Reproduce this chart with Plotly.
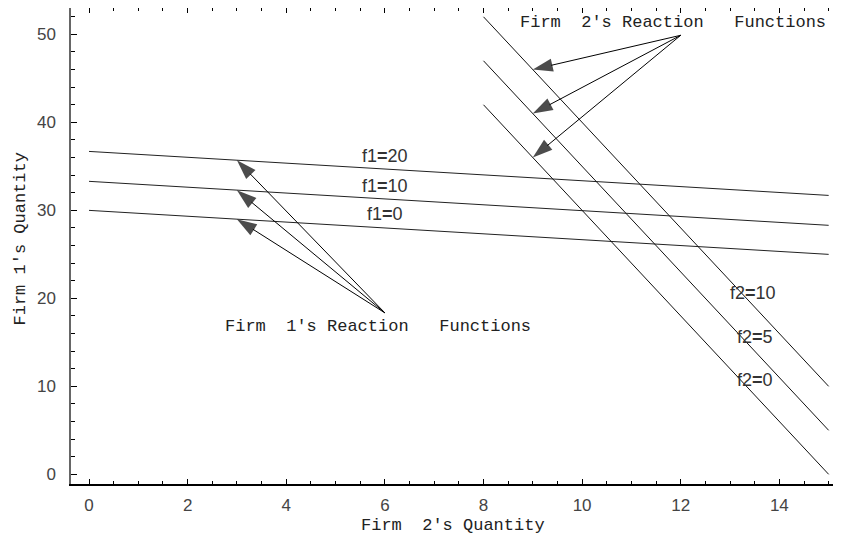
import plotly.graph_objects as go

# ---- data ----
x_f1 = [0, 15]
f1_0 = [30.0, 25.0]
f1_10 = [33.3, 28.3]
f1_20 = [36.7, 31.7]

x_f2 = [8, 15]
f2_0 = [42.0, 0.0]
f2_5 = [47.0, 5.0]
f2_10 = [52.0, 10.0]

f1_labels = ["f1<b>=</b>20", "f1<b>=</b>10", "f1<b>=</b>0"]
f1_label_x = [6.0, 6.0, 6.0]
f1_label_y = [36.2, 32.8, 29.6]

f2_labels = ["f2<b>=</b>10", "f2<b>=</b>5", "f2<b>=</b>0"]
f2_label_x = [13.47, 13.5, 13.5]
f2_label_y = [20.6, 15.6, 10.7]

firm1_text = "Firm  1's Reaction   Functions"
firm1_tail = (6.0, 18.35)
firm1_text_pos = (5.86, 16.8)
firm1_heads_x = [3.0, 3.0, 3.0]
firm1_heads_y = [35.7, 32.3, 29.0]

firm2_text = "Firm  2's Reaction   Functions"
firm2_tail = (12.0, 49.9)
firm2_text_pos = (11.85, 51.4)
firm2_heads_x = [9.0, 9.0, 9.0]
firm2_heads_y = [46.0, 41.0, 36.0]

x_ticks = [0, 2, 4, 6, 8, 10, 12, 14]
y_ticks = [0, 10, 20, 30, 40, 50]

MONO = "Liberation Mono"
SANS = "Liberation Sans"

fig = go.Figure()

for ys in (f1_0, f1_10, f1_20):
    fig.add_trace(go.Scatter(x=x_f1, y=ys, mode="lines",
                             line=dict(color="#222", width=1), hoverinfo="skip"))
for ys in (f2_0, f2_5, f2_10):
    fig.add_trace(go.Scatter(x=x_f2, y=ys, mode="lines",
                             line=dict(color="#111", width=1), hoverinfo="skip"))

# arrows: shaft + arrow marker at head
for tail, hx, hy in ((firm1_tail, firm1_heads_x, firm1_heads_y),
                     (firm2_tail, firm2_heads_x, firm2_heads_y)):
    for x, y in zip(hx, hy):
        fig.add_trace(go.Scatter(
            x=[tail[0], x], y=[tail[1], y], mode="lines+markers",
            line=dict(color="black", width=1),
            marker=dict(symbol="arrow", size=[0, 21], angleref="previous",
                        color="black", line=dict(width=0)),
            hoverinfo="skip"))

annotations = []
for t, x, y in zip(f1_labels, f1_label_x, f1_label_y):
    annotations.append(dict(x=x, y=y, text=t, showarrow=False,
                            font=dict(family=SANS, size=18, color="#333")))
for t, x, y in zip(f2_labels, f2_label_x, f2_label_y):
    annotations.append(dict(x=x, y=y, text=t, showarrow=False,
                            font=dict(family=SANS, size=18, color="#333")))
annotations.append(dict(x=firm1_text_pos[0], y=firm1_text_pos[1], text=firm1_text,
                        showarrow=False, font=dict(family=MONO, size=17, color="#222")))
annotations.append(dict(x=firm2_text_pos[0], y=firm2_text_pos[1], text=firm2_text,
                        showarrow=False, font=dict(family=MONO, size=17, color="#222")))
annotations.append(dict(xref="paper", yref="paper", x=0.496, y=-0.088,
                        text="Firm  2's Quantity", showarrow=False,
                        xanchor="center", yanchor="middle",
                        font=dict(family=MONO, size=17, color="#222")))
annotations.append(dict(xref="paper", yref="paper", x=-0.066, y=0.514,
                        text="Firm 1's Quantity", showarrow=False, textangle=-90,
                        xanchor="center", yanchor="middle",
                        font=dict(family=MONO, size=17, color="#222")))

# the page body has an 8px margin, so the figure is sized/placed to compensate
fig.update_layout(
    width=833, height=530,
    margin=dict(l=63, r=0, t=0, b=54, autoexpand=False),
    paper_bgcolor="white", plot_bgcolor="white",
    showlegend=False,
    annotations=annotations,
    xaxis=dict(range=[-0.365, 15.25], tickvals=x_ticks, ticks="inside",
               ticklen=5, tickcolor="black", tickwidth=1,
               showline=True, linecolor="black", linewidth=1.5, mirror="ticks",
               showgrid=False, zeroline=False,
               ticklabelstandoff=5,
               tickfont=dict(family=SANS, size=17, color="#444"),
               minor=dict(dtick=0.5, ticklen=3, tickcolor="black", ticks="inside",
                          showgrid=False)),
    yaxis=dict(range=[-1.1, 53.0], tickvals=y_ticks, ticks="inside",
               ticklen=6, tickcolor="black", tickwidth=1,
               showline=True, linecolor="#666", linewidth=1.5,
               showgrid=False, zeroline=False,
               ticklabelstandoff=10,
               tickfont=dict(family=SANS, size=17, color="#444"),
               minor=dict(dtick=2, ticklen=4, tickcolor="black", ticks="inside",
                          showgrid=False)),
)

fig.write_html("out.html")
